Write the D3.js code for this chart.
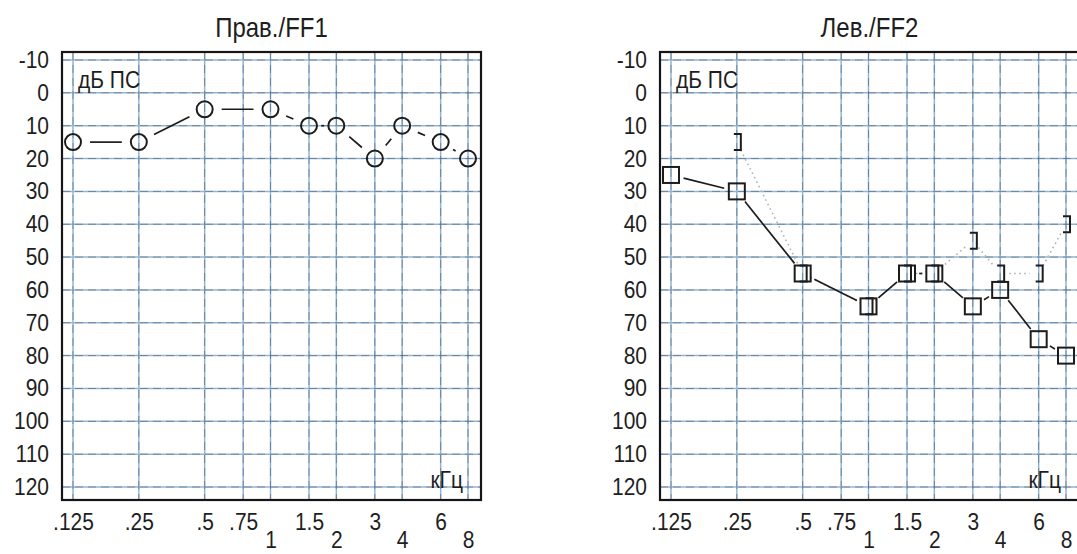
<!DOCTYPE html>
<html>
<head>
<meta charset="utf-8">
<script src="https://cdn.jsdelivr.net/npm/d3@7/dist/d3.min.js"></script>
<style>
  html, body { margin: 0; padding: 0; background: #fff; }
  svg { display: block; }
  text { font-family: "Liberation Sans", Arial, sans-serif; fill: #1e1e1e; }
</style>
</head>
<body>
<svg id="chart" width="1077" height="554"></svg>
<script>
// Test frequencies (kHz) and hearing levels (dB HL)
const freqs = [0.125, 0.25, 0.5, 1, 1.5, 2, 3, 4, 6, 8];
const rightAir = [15, 15, 5, 5, 10, 10, 20, 10, 15, 20];
const leftAir = [25, 30, 55, 65, 55, 55, 65, 60, 75, 80];
const leftBoneFreqs = [0.25, 0.5, 1, 1.5, 2, 3, 4, 6, 8];
const leftBone = [15, 55, 65, 55, 55, 45, 55, 55, 40];

// Axis ticks
const gridFreqs = [0.125, 0.25, 0.5, 0.75, 1, 1.5, 2, 3, 4, 6, 8];
const freqLabels = [".125", ".25", ".5", ".75", "1", "1.5", "2", "3", "4", "6", "8"];
const dbTicks = [-10, 0, 10, 20, 30, 40, 50, 60, 70, 80, 90, 100, 110, 120];

const panelTitles = ["Прав./FF1", "Лев./FF2"];
const yUnit = "дБ ПС";
const xUnit = "кГц";

const svg = d3.select("#chart");
const SY = 1.12; // printed lettering is slightly taller than it is wide

// one audiogram panel
function panel(opts) {
  const { x0, title, air, marker, bone } = opts;
  const frame = { left: x0, right: x0 + 419, top: 52, bottom: 500 };

  const x = d3.scaleLog().base(2).domain([0.125, 8]).range([x0 + 11, x0 + 406]);
  const y = d3.scaleLinear().domain([-10, 120]).range([60, 487]);

  const g = svg.append("g");

  // grid: light blue rules with a grey dashed print over them
  const rules = [
    ...dbTicks.map(d => ({ x1: frame.left, x2: frame.right, y1: y(d), y2: y(d) })),
    ...gridFreqs.map(f => ({ x1: x(f), x2: x(f), y1: frame.top, y2: frame.bottom }))
  ];
  const grid = g.append("g");
  grid.selectAll("line.base").data(rules).join("line")
    .attr("x1", d => d.x1).attr("x2", d => d.x2).attr("y1", d => d.y1).attr("y2", d => d.y2)
    .attr("stroke", "#93b5d4").attr("stroke-width", 1.5);
  grid.selectAll("line.ink").data(rules).join("line")
    .attr("x1", d => d.x1).attr("x2", d => d.x2).attr("y1", d => d.y1).attr("y2", d => d.y2)
    .attr("stroke", "#3f474f").attr("stroke-opacity", 0.45).attr("stroke-width", 1)
    .attr("stroke-dasharray", "8,5");

  // frame
  g.append("rect")
    .attr("x", frame.left).attr("y", frame.top)
    .attr("width", frame.right - frame.left).attr("height", frame.bottom - frame.top)
    .attr("fill", "none").attr("stroke", "#161616").attr("stroke-width", 2.2);

  // y axis labels
  const yAxis = g.append("g")
    .attr("transform", `translate(${x0 - 13},0)`)
    .call(d3.axisLeft(y).tickValues(dbTicks).tickFormat(d => String(d))
      .tickSize(0).tickPadding(0));
  yAxis.select(".domain").remove();
  yAxis.attr("font-family", null).attr("font-size", null);
  yAxis.selectAll("text")
    .attr("font-size", 21).attr("fill", "#1e1e1e")
    .attr("transform", `scale(1,${SY})`);

  // x axis labels, whole octaves from 1 kHz up sit on a second row
  const lowerRow = f => f >= 1 && Number.isInteger(Math.log2(f));
  const xAxis = g.append("g")
    .attr("transform", `translate(0,${frame.bottom})`)
    .call(d3.axisBottom(x).tickValues(gridFreqs)
      .tickFormat((d, i) => freqLabels[i]).tickSize(0).tickPadding(0));
  xAxis.select(".domain").remove();
  xAxis.attr("font-family", null).attr("font-size", null);
  xAxis.selectAll("text")
    .attr("font-size", 21).attr("fill", "#1e1e1e")
    .attr("dy", null)
    .attr("y", d => (lowerRow(d) ? 48 : 30) / SY)
    .attr("transform", `scale(1,${SY})`);

  // title and units
  g.append("text")
    .attr("transform", `translate(${(frame.left + frame.right) / 2},37) scale(1,${SY})`)
    .attr("text-anchor", "middle").attr("font-size", 24).text(title);
  g.append("text")
    .attr("transform", `translate(${frame.left + 16},88) scale(1,${SY})`)
    .attr("font-size", 21).text(yUnit);
  g.append("text")
    .attr("transform", `translate(${frame.right - 18},488) scale(1,${SY})`)
    .attr("text-anchor", "end").attr("font-size", 21).text(xUnit);

  // connecting segments trimmed short of each marker
  function segments(fs, vs, trim) {
    const pts = fs.map((f, i) => [x(f), y(vs[i])]);
    const out = [];
    for (let i = 0; i < pts.length - 1; i++) {
      const [ax, ay] = pts[i], [bx, by] = pts[i + 1];
      const len = Math.hypot(bx - ax, by - ay);
      const t = Math.min(trim, len / 2 - 1.5);
      if (t <= 0 || len - 2 * t < 1) continue;
      const ux = (bx - ax) / len, uy = (by - ay) / len;
      out.push({ x1: ax + ux * t, y1: ay + uy * t, x2: bx - ux * t, y2: by - uy * t });
    }
    return out;
  }

  // bone conduction: faint dotted trace and "]" markers
  if (bone) {
    g.append("g").selectAll("line")
      .data(segments(bone.f, bone.v, 9))
      .join("line")
      .attr("x1", d => d.x1).attr("y1", d => d.y1)
      .attr("x2", d => d.x2).attr("y2", d => d.y2)
      .attr("stroke", "#a9b5c1").attr("stroke-width", 1.6)
      .attr("stroke-dasharray", "1.6,3.4");
    g.append("g").selectAll("path")
      .data(bone.f.map((f, i) => [f, bone.v[i]]))
      .join("path")
      .attr("transform", d => `translate(${x(d[0])},${y(d[1])})`)
      .attr("d", "M-3,-8H4V8H-3")
      .attr("fill", "none").attr("stroke", "#1c1c1c").attr("stroke-width", 2);
  }

  // air conduction trace
  g.append("g").selectAll("line")
    .data(segments(freqs, air, marker === "circle" ? 17 : 13))
    .join("line")
    .attr("x1", d => d.x1).attr("y1", d => d.y1)
    .attr("x2", d => d.x2).attr("y2", d => d.y2)
    .attr("stroke", "#1c1c1c").attr("stroke-width", 1.7);

  const pts = freqs.map((f, i) => [f, air[i]]);
  if (marker === "circle") {
    g.append("g").selectAll("circle").data(pts).join("circle")
      .attr("cx", d => x(d[0])).attr("cy", d => y(d[1])).attr("r", 8)
      .attr("fill", "none").attr("stroke", "#1c1c1c").attr("stroke-width", 2);
  } else {
    g.append("g").selectAll("rect").data(pts).join("rect")
      .attr("x", d => x(d[0]) - 8).attr("y", d => y(d[1]) - 8)
      .attr("width", 16).attr("height", 16)
      .attr("fill", "none").attr("stroke", "#1c1c1c").attr("stroke-width", 2);
  }
}

panel({ x0: 62, title: panelTitles[0], air: rightAir, marker: "circle" });
panel({ x0: 660, title: panelTitles[1], air: leftAir, marker: "square",
        bone: { f: leftBoneFreqs, v: leftBone } });
</script>
</body>
</html>
